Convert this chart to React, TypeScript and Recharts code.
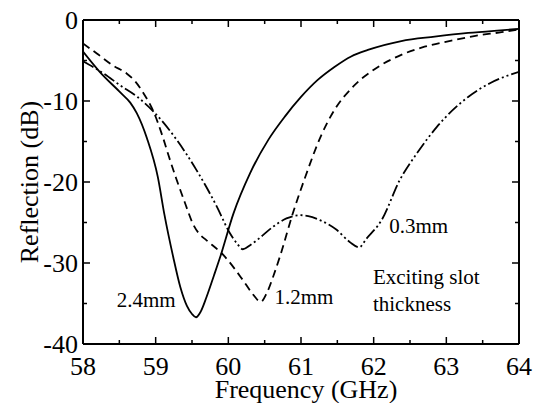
import React from 'react';
import { LineChart, Line, XAxis, YAxis, ReferenceDot } from 'recharts';

// 2.4mm exciting slot thickness (solid)
const freq24 = [58.0, 58.23, 58.52, 58.65, 58.74, 58.88, 59.03, 59.12, 59.24, 59.34, 59.43, 59.5, 59.555, 59.62, 59.7, 59.8, 59.89, 60.07, 60.3, 60.55, 60.78, 61.0, 61.23, 61.46, 61.69, 61.92, 62.38, 62.84, 63.3, 63.7, 64.0];
const refl24 = [-3.9, -6.4, -9.0, -10.2, -11.5, -14.6, -19.4, -24.0, -29.2, -33.0, -35.3, -36.3, -36.7, -36.0, -34.2, -31.6, -29.2, -23.9, -18.9, -14.8, -11.9, -9.5, -7.4, -5.8, -4.5, -3.7, -2.6, -2.06, -1.6, -1.3, -1.1];

// 1.2mm (dashed)
const freq12 = [58.0, 58.2, 58.41, 58.6, 58.72, 58.83, 58.97, 59.1, 59.18, 59.28, 59.4, 59.52, 59.6, 59.7, 59.93, 60.2, 60.35, 60.445, 60.53, 60.62, 60.71, 60.89, 61.05, 61.28, 61.46, 61.72, 62.06, 62.38, 62.7, 63.07, 63.4, 63.76, 64.0];
const refl12 = [-2.9, -4.2, -5.6, -6.6, -7.6, -9.0, -11.3, -14.5, -16.8, -19.5, -22.5, -25.3, -26.4, -27.2, -29.0, -32.1, -34.0, -34.8, -33.7, -31.6, -29.2, -23.8, -19.6, -14.2, -11.1, -8.2, -5.8, -4.3, -3.3, -2.55, -1.95, -1.5, -1.15];

// 0.3mm (dash-dot-dot)
const freq03 = [58.0, 58.3, 58.5, 58.75, 58.97, 59.29, 59.56, 59.84, 60.02, 60.12, 60.2, 60.3, 60.39, 60.62, 60.8, 60.99, 61.1, 61.26, 61.49, 61.67, 61.8, 61.9, 62.11, 62.36, 62.6, 62.87, 63.3, 63.6, 64.0];
const refl03 = [-5.1, -6.7, -8.0, -9.5, -11.3, -14.8, -18.5, -23.0, -26.3, -27.6, -28.3, -27.8, -27.2, -25.5, -24.5, -24.1, -24.2, -24.7, -25.9, -27.4, -28.06, -27.0, -24.7, -19.75, -16.4, -13.2, -9.5, -7.8, -6.4];

const xTicks = [58, 58.5, 59, 59.5, 60, 60.5, 61, 61.5, 62, 62.5, 63, 63.5, 64];
const yTicks = [-40, -35, -30, -25, -20, -15, -10, -5, 0];

const labelTexts = ['2.4mm', '1.2mm', '0.3mm', 'Exciting slot', 'thickness'];
const labelFreqs = [58.87, 61.04, 62.62, 61.99, 61.99];
const labelRefls = [-35.4, -35.0, -26.3, -32.6, -35.9];
const labelAnchors = ['middle', 'middle', 'middle', 'start', 'start'];

const zip = (xs: number[], ys: number[]) => xs.map((x, i) => ({ x, y: ys[i] }));
const data24 = zip(freq24, refl24);
const data12 = zip(freq12, refl12);
const data03 = zip(freq03, refl03);

const FONT = '"Liberation Serif", "Times New Roman", Times, serif';
const MAJ = 7;
const MIN = 4;

const BottomTick = (p: any) => {
  const { x, y, payload } = p;
  const v = payload.value;
  const major = Number.isInteger(v);
  return (
    <g>
      <line x1={x} y1={y} x2={x} y2={y - (major ? MAJ : MIN)} stroke="#000" strokeWidth={1.5} />
      {major && (
        <text x={x} y={y + 31} textAnchor="middle" fontSize={26} fontFamily={FONT} fill="#000">
          {v}
        </text>
      )}
    </g>
  );
};

const TopTick = (p: any) => {
  const { x, y, payload } = p;
  const major = Number.isInteger(payload.value);
  return <line x1={x} y1={y} x2={x} y2={y + (major ? MAJ : MIN)} stroke="#000" strokeWidth={1.5} />;
};

const LeftTick = (p: any) => {
  const { x, y, payload } = p;
  const v = payload.value;
  const major = v % 10 === 0;
  return (
    <g>
      <line x1={x} y1={y} x2={x + (major ? MAJ : MIN)} y2={y} stroke="#000" strokeWidth={1.5} />
      {major && (
        <text x={x - 5} y={y + 9} textAnchor="end" fontSize={26} fontFamily={FONT} fill="#000">
          {String(v)}
        </text>
      )}
    </g>
  );
};

const RightTick = (p: any) => {
  const { x, y, payload } = p;
  const major = payload.value % 10 === 0;
  return <line x1={x} y1={y} x2={x - (major ? MAJ : MIN)} y2={y} stroke="#000" strokeWidth={1.5} />;
};

const axisLine = { stroke: '#000', strokeWidth: 2 };

export default function App() {
  return (
    <div style={{ position: 'absolute', left: 0, top: 0, width: 538, height: 403, background: '#fff' }}>
      <LineChart width={538} height={403} margin={{ top: 19, right: 18, left: 0, bottom: 0 }}>
        <XAxis
          type="number"
          dataKey="x"
          domain={[58, 64]}
          ticks={xTicks}
          interval={0}
          height={59}
          tickSize={0}
          tickMargin={0}
          tickLine={false}
          axisLine={axisLine}
          tick={<BottomTick />}
          allowDataOverflow
          label={{
            content: (lp: any) => {
              const vb = lp.viewBox;
              return (
                <text x={vb.x + vb.width / 2 + 5} y={vb.y + 54} textAnchor="middle" fontSize={26} fontFamily={FONT} fill="#000">
                  Frequency (GHz)
                </text>
              );
            },
          }}
        />
        <XAxis
          xAxisId="top"
          orientation="top"
          type="number"
          dataKey="x"
          domain={[58, 64]}
          ticks={xTicks}
          interval={0}
          height={1}
          tickSize={0}
          tickMargin={0}
          tickLine={false}
          axisLine={axisLine}
          tick={<TopTick />}
          allowDataOverflow
        />
        <YAxis
          type="number"
          domain={[-40, 0]}
          ticks={yTicks}
          interval={0}
          width={83}
          tickSize={0}
          tickMargin={0}
          tickLine={false}
          axisLine={axisLine}
          tick={<LeftTick />}
          allowDataOverflow
          label={{
            content: (lp: any) => {
              const vb = lp.viewBox;
              const cy = vb.y + vb.height / 2;
              return (
                <text
                  x={38}
                  y={cy}
                  textAnchor="middle"
                  fontSize={26}
                  fontFamily={FONT}
                  fill="#000"
                  transform={`rotate(-90, 38, ${cy})`}
                >
                  Reflection (dB)
                </text>
              );
            },
          }}
        />
        <YAxis
          yAxisId="right"
          orientation="right"
          type="number"
          domain={[-40, 0]}
          ticks={yTicks}
          interval={0}
          width={1}
          tickSize={0}
          tickMargin={0}
          tickLine={false}
          axisLine={axisLine}
          tick={<RightTick />}
          allowDataOverflow
        />
        <Line data={data24} dataKey="y" type="monotone" stroke="#000" strokeWidth={1.8} dot={false} isAnimationActive={false} />
        <Line data={data12} dataKey="y" type="monotone" stroke="#000" strokeWidth={1.8} strokeDasharray="8 5" dot={false} isAnimationActive={false} />
        <Line data={data03} dataKey="y" type="monotone" stroke="#000" strokeWidth={1.8} strokeDasharray="12 3 2 3 2 3" dot={false} isAnimationActive={false} />
        {labelTexts.map((t, i) => (
          <ReferenceDot
            key={t}
            x={labelFreqs[i]}
            y={labelRefls[i]}
            r={1}
            fill="none"
            stroke="none"
            ifOverflow="visible"
            label={{
              content: (lp: any) => {
                const vb = lp.viewBox;
                return (
                  <text
                    x={vb.x + vb.width / 2}
                    y={vb.y + vb.height / 2}
                    textAnchor={labelAnchors[i] as any}
                    fontSize={21}
                    fontFamily={FONT}
                    fill="#000"
                  >
                    {t}
                  </text>
                );
              },
            }}
          />
        ))}
      </LineChart>
    </div>
  );
}
